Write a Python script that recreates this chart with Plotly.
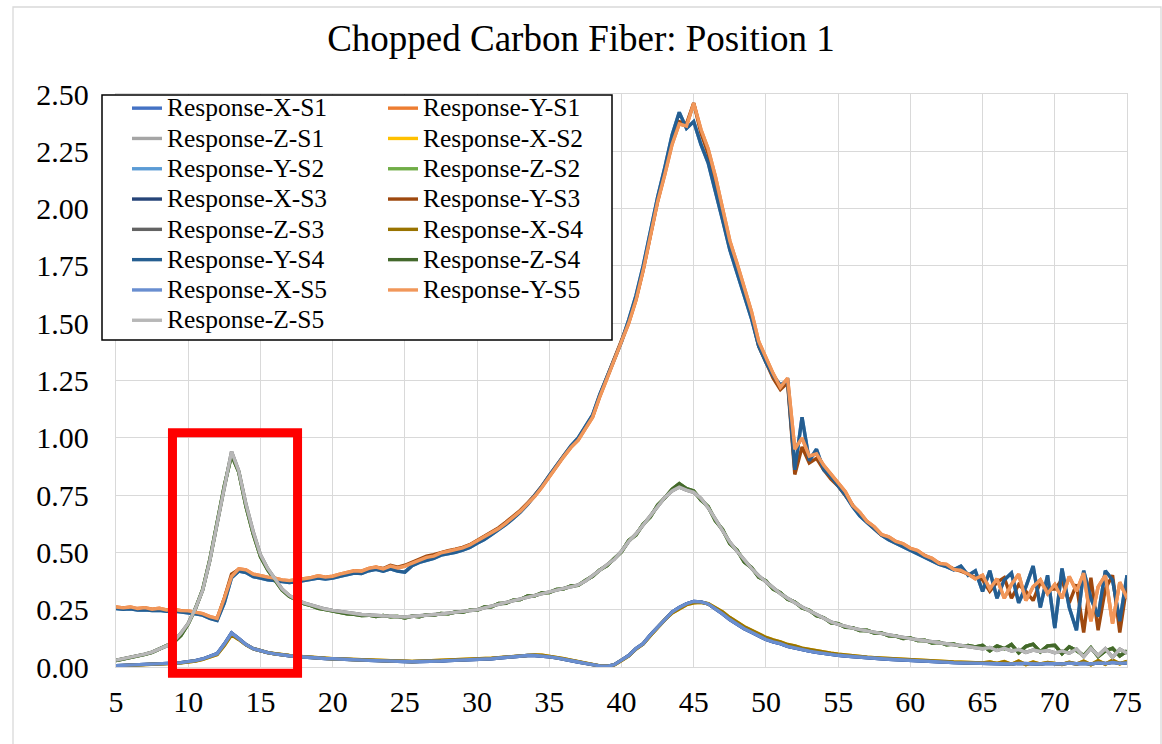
import plotly.graph_objects as go

# ---------------- data ----------------
# common x sampling: 5.0, 5.5, ..., 75.0
FREQ = [round(5 + 0.5 * i, 1) for i in range(141)]

X_A = [0.006, 0.007, 0.008, 0.009, 0.010, 0.012, 0.014, 0.015, 0.017, 0.019,
       0.022, 0.028, 0.035, 0.045, 0.058, 0.100, 0.148, 0.124, 0.098, 0.080,
       0.070, 0.063, 0.057, 0.052, 0.049, 0.046, 0.043, 0.040, 0.038, 0.037,
       0.036, 0.034, 0.032, 0.031, 0.030, 0.029, 0.028, 0.027, 0.025, 0.023,
       0.022, 0.023, 0.024, 0.024, 0.025, 0.026, 0.028, 0.029, 0.030, 0.031,
       0.032, 0.034, 0.036, 0.039, 0.042, 0.044, 0.047, 0.050, 0.050, 0.048,
       0.044, 0.040, 0.035, 0.029, 0.022, 0.016, 0.010, 0.005, 0.003, 0.010,
       0.030, 0.050, 0.080, 0.102, 0.140, 0.175, 0.210, 0.240, 0.260, 0.276,
       0.286, 0.284, 0.275, 0.255, 0.232, 0.207, 0.185, 0.167, 0.152, 0.134,
       0.120, 0.110, 0.102, 0.090, 0.082, 0.075, 0.069, 0.064, 0.059, 0.055,
       0.051, 0.048, 0.045, 0.042, 0.040, 0.038, 0.036, 0.034, 0.032, 0.031,
       0.029, 0.027, 0.026, 0.024, 0.022, 0.021, 0.019, 0.018, 0.017, 0.016,
       0.015, 0.016, 0.014, 0.015, 0.013, 0.016, 0.014, 0.015, 0.013, 0.016,
       0.015, 0.013, 0.017, 0.014, 0.016, 0.013, 0.018, 0.015, 0.020, 0.016,
       0.018]

X_B = [0.005, 0.006, 0.007, 0.008, 0.009, 0.011, 0.013, 0.014, 0.016, 0.018,
       0.021, 0.026, 0.033, 0.042, 0.054, 0.094, 0.140, 0.120, 0.097, 0.080,
       0.070, 0.063, 0.058, 0.053, 0.050, 0.047, 0.044, 0.041, 0.039, 0.038,
       0.036, 0.035, 0.033, 0.032, 0.031, 0.030, 0.029, 0.028, 0.026, 0.024,
       0.023, 0.024, 0.025, 0.026, 0.027, 0.028, 0.029, 0.030, 0.031, 0.032,
       0.034, 0.036, 0.038, 0.041, 0.044, 0.047, 0.050, 0.053, 0.053, 0.051,
       0.047, 0.042, 0.036, 0.030, 0.023, 0.016, 0.010, 0.005, 0.003, 0.009,
       0.028, 0.048, 0.078, 0.100, 0.137, 0.172, 0.206, 0.236, 0.256, 0.272,
       0.280, 0.282, 0.276, 0.260, 0.240, 0.216, 0.194, 0.176, 0.160, 0.143,
       0.129, 0.118, 0.110, 0.098, 0.092, 0.082, 0.076, 0.070, 0.065, 0.060,
       0.056, 0.052, 0.049, 0.046, 0.043, 0.041, 0.039, 0.037, 0.035, 0.033,
       0.031, 0.030, 0.028, 0.026, 0.025, 0.023, 0.022, 0.021, 0.020, 0.019,
       0.018, 0.022, 0.016, 0.024, 0.012, 0.026, 0.010, 0.022, 0.013, 0.020,
       0.015, 0.011, 0.021, 0.012, 0.026, 0.010, 0.028, 0.012, 0.030, 0.014,
       0.025]

Y_A = [0.262, 0.258, 0.262, 0.255, 0.259, 0.252, 0.256, 0.249, 0.252, 0.246,
       0.245, 0.238, 0.233, 0.220, 0.212, 0.300, 0.395, 0.428, 0.424, 0.405,
       0.398, 0.392, 0.388, 0.380, 0.377, 0.380, 0.385, 0.390, 0.398, 0.392,
       0.396, 0.405, 0.412, 0.420, 0.418, 0.430, 0.436, 0.428, 0.440, 0.432,
       0.440, 0.452, 0.466, 0.478, 0.484, 0.498, 0.505, 0.512, 0.520, 0.532,
       0.550, 0.566, 0.585, 0.604, 0.628, 0.652, 0.680, 0.712, 0.745, 0.785,
       0.830, 0.872, 0.918, 0.958, 0.990, 1.040, 1.090, 1.180, 1.260, 1.340,
       1.410, 1.500, 1.600, 1.730, 1.880, 2.030, 2.150, 2.280, 2.370, 2.360,
       2.460, 2.345, 2.260, 2.140, 2.000, 1.860, 1.760, 1.650, 1.550, 1.420,
       1.350, 1.280, 1.220, 1.260, 0.950, 1.000, 0.920, 0.930, 0.880, 0.840,
       0.800, 0.765, 0.705, 0.675, 0.635, 0.612, 0.578, 0.568, 0.548, 0.538,
       0.518, 0.508, 0.486, 0.474, 0.452, 0.448, 0.426, 0.422, 0.405, 0.385,
       0.400, 0.340, 0.385, 0.300, 0.360, 0.405, 0.290, 0.350, 0.380, 0.320,
       0.360, 0.300, 0.395, 0.330, 0.410, 0.200, 0.350, 0.400, 0.190, 0.370,
       0.300]

Y_B = [0.255, 0.252, 0.254, 0.248, 0.250, 0.246, 0.247, 0.243, 0.244, 0.240,
       0.238, 0.232, 0.226, 0.212, 0.203, 0.280, 0.390, 0.418, 0.412, 0.394,
       0.388, 0.380, 0.377, 0.372, 0.368, 0.372, 0.378, 0.382, 0.388, 0.384,
       0.388, 0.396, 0.404, 0.410, 0.408, 0.420, 0.426, 0.418, 0.428, 0.418,
       0.414, 0.442, 0.456, 0.466, 0.474, 0.488, 0.494, 0.500, 0.510, 0.522,
       0.540, 0.556, 0.578, 0.598, 0.622, 0.648, 0.676, 0.710, 0.748, 0.790,
       0.836, 0.880, 0.925, 0.965, 1.000, 1.050, 1.100, 1.190, 1.270, 1.350,
       1.420, 1.515, 1.620, 1.750, 1.900, 2.050, 2.180, 2.320, 2.420, 2.350,
       2.380, 2.280, 2.200, 2.080, 1.950, 1.820, 1.720, 1.620, 1.520, 1.400,
       1.330, 1.270, 1.230, 1.250, 0.860, 1.090, 0.900, 0.950, 0.860, 0.830,
       0.790, 0.750, 0.700, 0.660, 0.630, 0.600, 0.575, 0.555, 0.540, 0.525,
       0.510, 0.495, 0.480, 0.462, 0.448, 0.438, 0.424, 0.440, 0.400, 0.420,
       0.330, 0.420, 0.300, 0.380, 0.410, 0.280, 0.350, 0.440, 0.260, 0.400,
       0.170, 0.430, 0.260, 0.160, 0.420, 0.300, 0.220, 0.420, 0.380, 0.200,
       0.400]

Y_C = [0.260, 0.256, 0.258, 0.252, 0.256, 0.250, 0.252, 0.247, 0.249, 0.244,
       0.242, 0.236, 0.230, 0.216, 0.208, 0.300, 0.405, 0.425, 0.420, 0.400,
       0.394, 0.388, 0.384, 0.376, 0.374, 0.378, 0.382, 0.388, 0.394, 0.390,
       0.394, 0.402, 0.410, 0.418, 0.416, 0.428, 0.434, 0.430, 0.444, 0.436,
       0.444, 0.456, 0.470, 0.484, 0.490, 0.500, 0.508, 0.514, 0.522, 0.534,
       0.552, 0.568, 0.588, 0.608, 0.632, 0.656, 0.684, 0.716, 0.750, 0.790,
       0.835, 0.878, 0.922, 0.962, 0.995, 1.045, 1.095, 1.185, 1.265, 1.345,
       1.415, 1.505, 1.605, 1.735, 1.885, 2.035, 2.160, 2.290, 2.380, 2.370,
       2.460, 2.330, 2.240, 2.110, 1.960, 1.830, 1.740, 1.630, 1.530, 1.400,
       1.330, 1.260, 1.210, 1.240, 0.840, 0.960, 0.890, 0.910, 0.860, 0.820,
       0.790, 0.750, 0.705, 0.665, 0.632, 0.604, 0.576, 0.560, 0.545, 0.530,
       0.515, 0.500, 0.486, 0.466, 0.452, 0.442, 0.428, 0.418, 0.406, 0.390,
       0.380, 0.330, 0.370, 0.390, 0.300, 0.360, 0.330, 0.290, 0.370, 0.340,
       0.340, 0.380, 0.280, 0.360, 0.150, 0.390, 0.160, 0.340, 0.400, 0.150,
       0.360]

Z_A = [0.030, 0.036, 0.042, 0.048, 0.056, 0.065, 0.077, 0.092, 0.113, 0.148,
       0.190, 0.255, 0.335, 0.465, 0.625, 0.790, 0.940, 0.855, 0.710, 0.590,
       0.490, 0.430, 0.385, 0.340, 0.312, 0.293, 0.280, 0.270, 0.260, 0.253,
       0.247, 0.242, 0.236, 0.232, 0.229, 0.227, 0.226, 0.224, 0.222, 0.220,
       0.218, 0.220, 0.222, 0.225, 0.228, 0.231, 0.235, 0.238, 0.241, 0.245,
       0.250, 0.258, 0.266, 0.273, 0.280, 0.288, 0.297, 0.306, 0.314, 0.320,
       0.327, 0.335, 0.343, 0.350, 0.358, 0.375, 0.398, 0.420, 0.445, 0.470,
       0.505, 0.548, 0.580, 0.620, 0.660, 0.700, 0.740, 0.768, 0.785, 0.772,
       0.762, 0.735, 0.695, 0.645, 0.595, 0.545, 0.505, 0.465, 0.430, 0.398,
       0.372, 0.345, 0.320, 0.300, 0.280, 0.262, 0.245, 0.228, 0.212, 0.197,
       0.186, 0.177, 0.170, 0.163, 0.157, 0.152, 0.147, 0.140, 0.133, 0.128,
       0.124, 0.119, 0.114, 0.109, 0.105, 0.101, 0.097, 0.094, 0.090, 0.084,
       0.080, 0.085, 0.072, 0.082, 0.070, 0.076, 0.064, 0.074, 0.068, 0.072,
       0.062, 0.070, 0.060, 0.078, 0.045, 0.082, 0.050, 0.080, 0.042, 0.078,
       0.060]

Z_B = [0.028, 0.034, 0.040, 0.047, 0.055, 0.064, 0.078, 0.094, 0.108, 0.138,
       0.188, 0.255, 0.338, 0.470, 0.630, 0.790, 0.925, 0.850, 0.700, 0.580,
       0.482, 0.424, 0.380, 0.336, 0.308, 0.290, 0.276, 0.268, 0.256, 0.250,
       0.244, 0.240, 0.232, 0.230, 0.224, 0.226, 0.220, 0.225, 0.219, 0.221,
       0.214, 0.222, 0.219, 0.228, 0.226, 0.234, 0.232, 0.240, 0.239, 0.248,
       0.247, 0.262, 0.263, 0.277, 0.278, 0.292, 0.294, 0.310, 0.311, 0.324,
       0.325, 0.338, 0.341, 0.354, 0.356, 0.378, 0.396, 0.424, 0.442, 0.474,
       0.502, 0.552, 0.576, 0.624, 0.655, 0.706, 0.738, 0.776, 0.800, 0.778,
       0.768, 0.728, 0.700, 0.638, 0.600, 0.538, 0.510, 0.458, 0.434, 0.392,
       0.376, 0.340, 0.324, 0.296, 0.284, 0.258, 0.248, 0.224, 0.215, 0.193,
       0.189, 0.173, 0.172, 0.159, 0.160, 0.148, 0.149, 0.136, 0.135, 0.124,
       0.127, 0.115, 0.117, 0.105, 0.108, 0.097, 0.100, 0.090, 0.094, 0.088,
       0.095, 0.070, 0.092, 0.080, 0.098, 0.062, 0.090, 0.100, 0.066, 0.092,
       0.095, 0.058, 0.088, 0.072, 0.050, 0.085, 0.045, 0.070, 0.082, 0.048,
       0.070]

SERIES_NAMES = ["Response-X-S1", "Response-Y-S1", "Response-Z-S1",
                "Response-X-S2", "Response-Y-S2", "Response-Z-S2",
                "Response-X-S3", "Response-Y-S3", "Response-Z-S3",
                "Response-X-S4", "Response-Y-S4", "Response-Z-S4",
                "Response-X-S5", "Response-Y-S5", "Response-Z-S5"]
SERIES_VALUES = [X_A, Y_A, Z_B,
                 X_B, Y_B, Z_B,
                 X_A, Y_C, Z_A,
                 X_B, Y_B, Z_B,
                 X_A, Y_A, Z_A]
SERIES_COLORS = ["#4472C4", "#ED7D31", "#A5A5A5",
                 "#FFC000", "#5B9BD5", "#70AD47",
                 "#264478", "#9E480E", "#636363",
                 "#997300", "#255E91", "#43682B",
                 "#698ED0", "#F1975A", "#B7B7B7"]

X_TICKS = [5, 10, 15, 20, 25, 30, 35, 40, 45, 50, 55, 60, 65, 70, 75]
Y_TICKS = [0.0, 0.25, 0.5, 0.75, 1.0, 1.25, 1.5, 1.75, 2.0, 2.25, 2.5]
Y_TICK_TEXT = ["0.00", "0.25", "0.50", "0.75", "1.00", "1.25", "1.50",
               "1.75", "2.00", "2.25", "2.50"]

# highlighted region (data units)
HL_X = (8.91, 17.57)
HL_Y = (-0.027, 1.022)

for v in SERIES_VALUES:
    assert len(v) == len(FREQ)

# ---------------- layout geometry ----------------
W, H = 1162, 744
ML, MR, MT, MB = 116, 35, 94, 77
PW, PH = W - ML - MR, H - MT - MB
FONT = "Liberation Serif"


def px_x(p):
    return (p - ML) / PW


def px_y(p):
    return (H - MB - p) / PH


fig = go.Figure()
for i, (name, vals, col) in enumerate(zip(SERIES_NAMES, SERIES_VALUES, SERIES_COLORS)):
    fig.add_trace(go.Scatter(
        x=FREQ, y=vals, mode="lines",
        name='<span style="font-family:Liberation Serif;font-size:25.5px">%s</span>' % name,
        line=dict(color=col, width=3.4),
        legend="legend" if i % 2 == 0 else "legend2",
        hoverinfo="skip",
    ))

axis_common = dict(
    showgrid=True, gridcolor="#D9D9D9", gridwidth=1.3,
    showline=True, linecolor="#D9D9D9", linewidth=1.3, mirror=True,
    zeroline=False, ticks="",
    tickfont=dict(family=FONT, size=30, color="black"),
)
fig.update_xaxes(range=[5, 75], tickvals=X_TICKS, ticklabelstandoff=8, **axis_common)
fig.update_yaxes(range=[0, 2.5], tickvals=Y_TICKS, ticktext=Y_TICK_TEXT,
                 ticklabelstandoff=20, **axis_common)

legend_common = dict(
    orientation="v", bgcolor="rgba(0,0,0,0)", borderwidth=0,
    font=dict(family=FONT, size=21, color="black"),
    yanchor="top", xanchor="left", y=px_y(88),
    tracegroupgap=0,
)
fig.update_layout(
    width=W, height=H,
    margin=dict(l=ML, r=MR, t=MT, b=MB, autoexpand=False),
    paper_bgcolor="white", plot_bgcolor="white",
    font=dict(family=FONT, color="black"),
    title=dict(text="Chopped Carbon Fiber: Position 1",
               font=dict(family=FONT, size=37, color="black"),
               x=0.5, xanchor="center", xref="container",
               y=1 - 38 / H, yanchor="middle", yref="container"),
    legend=dict(x=px_x(127), **legend_common),
    legend2=dict(x=px_x(383), **legend_common),
    showlegend=True,
    hovermode=False,
    shapes=[
        # outer chart frame
        dict(type="rect", xref="paper", yref="paper",
             x0=px_x(13), x1=px_x(1161), y0=px_y(750), y1=px_y(7),
             line=dict(color="#D9D9D9", width=1.3), fillcolor="rgba(0,0,0,0)",
             layer="below"),
        # legend box
        dict(type="rect", xref="paper", yref="paper",
             x0=px_x(102), x1=px_x(612), y0=px_y(340), y1=px_y(95),
             line=dict(color="black", width=1.5), fillcolor="white",
             layer="above"),
        # red highlight box
        dict(type="rect", xref="x", yref="paper",
             x0=HL_X[0], x1=HL_X[1], y0=HL_Y[0] / 2.5, y1=HL_Y[1] / 2.5,
             line=dict(color="#FF0000", width=9), fillcolor="rgba(0,0,0,0)",
             layer="above"),
    ],
)

fig.write_html("out.html", config={"displayModeBar": False},
               post_script="document.body.style.margin='0';document.body.style.overflow='hidden';")
